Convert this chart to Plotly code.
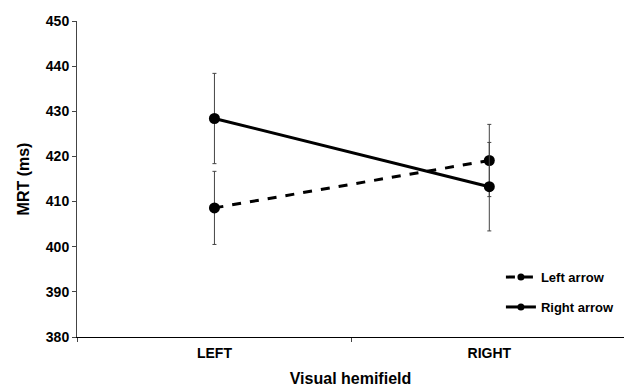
import plotly.graph_objects as go

categories = ["LEFT", "RIGHT"]
left_arrow = [408.6, 419.1]
left_arrow_err = [8.1, 8.0]
right_arrow = [428.4, 413.3]
right_arrow_err = [10.0, 9.8]
y_ticks = [380, 390, 400, 410, 420, 430, 440, 450]

fig = go.Figure()
fig.add_trace(go.Scatter(
    x=categories, y=left_arrow, name="Left arrow", mode="lines+markers",
    line=dict(color="black", width=3, dash="dash"),
    marker=dict(color="black", size=11), showlegend=False,
    error_y=dict(type="data", array=left_arrow_err, color="#444", thickness=1, width=2),
))
fig.add_trace(go.Scatter(
    x=categories, y=right_arrow, name="Right arrow", mode="lines+markers",
    line=dict(color="black", width=3),
    marker=dict(color="black", size=11), showlegend=False,
    error_y=dict(type="data", array=right_arrow_err, color="#444", thickness=1, width=2),
))
# legend entries (smaller marker, as in the reference legend)
fig.add_trace(go.Scatter(
    x=[None], y=[None], name="Left arrow", mode="lines+markers", legendgroup="a",
    line=dict(color="black", width=3, dash="dash"), marker=dict(color="black", size=7),
))
fig.add_trace(go.Scatter(
    x=[None], y=[None], name="Right arrow", mode="lines+markers", legendgroup="b",
    line=dict(color="black", width=3), marker=dict(color="black", size=7),
))

font = "Liberation Sans, Arial, sans-serif"
fig.update_layout(
    width=624, height=387,
    margin=dict(l=77, r=0, t=21, b=50),
    paper_bgcolor="white", plot_bgcolor="white",
    font=dict(family=font, color="black"),
    showlegend=True,
    legend=dict(x=0.775, y=0.237, xanchor="left", yanchor="top",
                font=dict(size=13, family=font, weight="bold"),
                bgcolor="rgba(0,0,0,0)", traceorder="grouped", tracegroupgap=10,
                itemwidth=30, borderwidth=0),
    xaxis=dict(
        type="category", range=[-0.5, 1.49], automargin=False,
        showline=True, linecolor="black", linewidth=1,
        ticks="outside", tickson="boundaries", ticklen=4, tickcolor="#444",
        tickfont=dict(size=14, weight="bold"), ticklabelstandoff=3,
        showgrid=False, zeroline=False,
        title=dict(text="Visual hemifield", font=dict(size=16, weight="bold"), standoff=18),
    ),
    yaxis=dict(
        range=[380, 450], tickvals=y_ticks, automargin=False,
        showline=True, linecolor="#444", linewidth=1,
        ticks="outside", ticklen=4, tickcolor="#444",
        tickfont=dict(size=14, weight="bold"),
        showgrid=False, zeroline=False,
        title=dict(text="MRT (ms)", font=dict(size=16, weight="bold"), standoff=12),
    ),
)

fig.write_html("out.html", config={"displayModeBar": False},
               post_script="document.body.style.margin='0';document.body.style.overflow='hidden';")
